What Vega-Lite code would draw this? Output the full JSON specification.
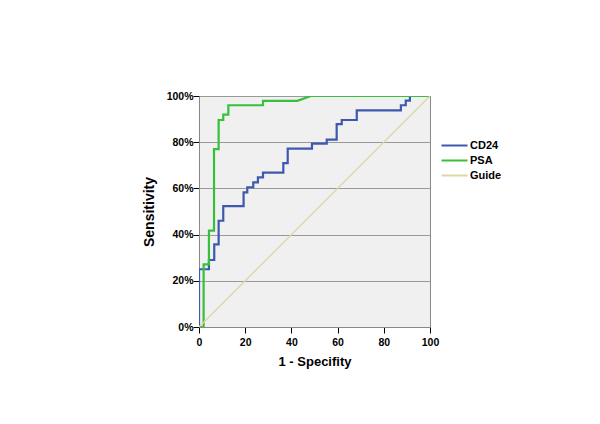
{
  "$schema": "https://vega.github.io/schema/vega-lite/v6.json",
  "autosize": "none",
  "width": 231,
  "height": 231,
  "padding": {"left": 199, "top": 96, "right": 170, "bottom": 97},
  "background": "white",
  "config": {
    "font": "Liberation Sans",
    "view": {"fill": "#f0f0f0", "stroke": "#888888", "strokeWidth": 1},
    "axis": {"labelFont": "Liberation Sans", "titleFont": "Liberation Sans", "labelFontSize": 10.5, "labelFontWeight": "bold", "labelColor": "#000000", "titleFontSize": 13, "titleFontWeight": "bold", "titleColor": "#000000", "tickColor": "#000000", "domainColor": "#888888", "tickSize": 6, "labelFlush": false},
    "legend": {"labelFont": "Liberation Sans", "labelFontSize": 11, "labelFontWeight": "bold", "labelColor": "#000000"}
  },
  "data": {"values": [
    {"s": "CD24", "o": 0, "x": 0, "y": 0},
    {"s": "CD24", "o": 1, "x": 0, "y": 25},
    {"s": "CD24", "o": 2, "x": 4.3, "y": 25},
    {"s": "CD24", "o": 3, "x": 4.3, "y": 29},
    {"s": "CD24", "o": 4, "x": 6.6, "y": 29},
    {"s": "CD24", "o": 5, "x": 6.6, "y": 35.8},
    {"s": "CD24", "o": 6, "x": 8.5, "y": 35.8},
    {"s": "CD24", "o": 7, "x": 8.5, "y": 46},
    {"s": "CD24", "o": 8, "x": 10.5, "y": 46},
    {"s": "CD24", "o": 9, "x": 10.5, "y": 52.3},
    {"s": "CD24", "o": 10, "x": 19.3, "y": 52.3},
    {"s": "CD24", "o": 11, "x": 19.3, "y": 58.3},
    {"s": "CD24", "o": 12, "x": 20.9, "y": 58.3},
    {"s": "CD24", "o": 13, "x": 20.9, "y": 60.5},
    {"s": "CD24", "o": 14, "x": 23.5, "y": 60.5},
    {"s": "CD24", "o": 15, "x": 23.5, "y": 62.6},
    {"s": "CD24", "o": 16, "x": 25.5, "y": 62.6},
    {"s": "CD24", "o": 17, "x": 25.5, "y": 64.8},
    {"s": "CD24", "o": 18, "x": 27.7, "y": 64.8},
    {"s": "CD24", "o": 19, "x": 27.7, "y": 66.8},
    {"s": "CD24", "o": 20, "x": 36.5, "y": 66.8},
    {"s": "CD24", "o": 21, "x": 36.5, "y": 70.9},
    {"s": "CD24", "o": 22, "x": 38.4, "y": 70.9},
    {"s": "CD24", "o": 23, "x": 38.4, "y": 77.2},
    {"s": "CD24", "o": 24, "x": 48.9, "y": 77.2},
    {"s": "CD24", "o": 25, "x": 48.9, "y": 79.4},
    {"s": "CD24", "o": 26, "x": 55.3, "y": 79.4},
    {"s": "CD24", "o": 27, "x": 55.3, "y": 81.1},
    {"s": "CD24", "o": 28, "x": 59.6, "y": 81.1},
    {"s": "CD24", "o": 29, "x": 59.6, "y": 87.8},
    {"s": "CD24", "o": 30, "x": 61.8, "y": 87.8},
    {"s": "CD24", "o": 31, "x": 61.8, "y": 89.6},
    {"s": "CD24", "o": 32, "x": 68.3, "y": 89.6},
    {"s": "CD24", "o": 33, "x": 68.3, "y": 93.8},
    {"s": "CD24", "o": 34, "x": 87.4, "y": 93.8},
    {"s": "CD24", "o": 35, "x": 87.4, "y": 96},
    {"s": "CD24", "o": 36, "x": 89.5, "y": 96},
    {"s": "CD24", "o": 37, "x": 89.5, "y": 98},
    {"s": "CD24", "o": 38, "x": 91.3, "y": 98},
    {"s": "CD24", "o": 39, "x": 91.3, "y": 100},
    {"s": "CD24", "o": 40, "x": 100, "y": 100},
    {"s": "PSA", "o": 0, "x": 0, "y": 0},
    {"s": "PSA", "o": 1, "x": 2, "y": 0},
    {"s": "PSA", "o": 2, "x": 2, "y": 27.1},
    {"s": "PSA", "o": 3, "x": 4.3, "y": 27.1},
    {"s": "PSA", "o": 4, "x": 4.3, "y": 41.7},
    {"s": "PSA", "o": 5, "x": 6.5, "y": 41.7},
    {"s": "PSA", "o": 6, "x": 6.5, "y": 77},
    {"s": "PSA", "o": 7, "x": 8.5, "y": 77},
    {"s": "PSA", "o": 8, "x": 8.5, "y": 89.6},
    {"s": "PSA", "o": 9, "x": 10.5, "y": 89.6},
    {"s": "PSA", "o": 10, "x": 10.5, "y": 91.9},
    {"s": "PSA", "o": 11, "x": 12.7, "y": 91.9},
    {"s": "PSA", "o": 12, "x": 12.7, "y": 96},
    {"s": "PSA", "o": 13, "x": 27.7, "y": 96},
    {"s": "PSA", "o": 14, "x": 27.7, "y": 97.9},
    {"s": "PSA", "o": 15, "x": 42.6, "y": 97.9},
    {"s": "PSA", "o": 16, "x": 48.4, "y": 100},
    {"s": "PSA", "o": 17, "x": 100, "y": 100},
    {"s": "Guide", "o": 0, "x": 0, "y": 0},
    {"s": "Guide", "o": 1, "x": 100, "y": 100}
  ]},
  "layer": [
    {
      "mark": {"type": "line", "strokeCap": "square", "strokeJoin": "miter", "clip": true},
      "encoding": {
        "x": {"field": "x", "type": "quantitative", "scale": {"domain": [0, 100], "nice": false}, "axis": {"title": "1 - Specifity", "values": [0, 20, 40, 60, 80, 100], "grid": false, "titlePadding": 8, "labelPadding": 4}},
        "y": {"field": "y", "type": "quantitative", "scale": {"domain": [0, 100], "nice": false}, "axis": {"title": "Sensitivity", "titleFontSize": 14, "values": [0, 20, 40, 60, 80, 100], "labelExpr": "datum.value + '%'", "grid": true, "gridColor": "#999999", "gridOpacity": 1, "titlePadding": 10, "labelPadding": 0}},
        "color": {"field": "s", "type": "nominal", "scale": {"domain": ["CD24", "PSA", "Guide"], "range": ["#3e58b0", "#38bf3c", "#dcd7a4"]}, "legend": {"title": null, "orient": "none", "legendX": 248, "legendY": 42, "symbolType": "M-2,0H2", "symbolSize": 169, "symbolStrokeWidth": 2, "symbolFillColor": "transparent", "rowPadding": 2, "labelOffset": 8}},
        "strokeWidth": {"condition": {"test": "datum.s === 'Guide'", "value": 1.3}, "value": 2.2},
        "order": {"field": "o", "type": "quantitative"},
        "detail": {"field": "s"}
      }
    }
  ]
}
